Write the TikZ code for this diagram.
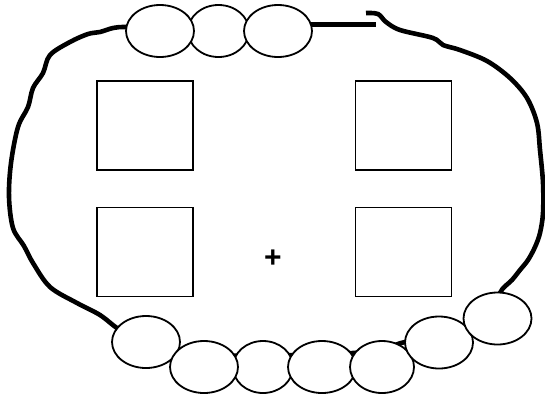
\documentclass[tikz,border=0pt]{standalone}
\usepackage{fontspec}
\setmainfont{Liberation Sans}
\usetikzlibrary{shapes.geometric}
\begin{document}
\begin{tikzpicture}[x=1pt,y=-1pt,
  bead/.style={ellipse,draw=black,fill=white,line width=1.8pt,inner sep=0pt,minimum width=#1,minimum height=52pt},
  bead/.default=68pt,
  box/.style={rectangle,draw=black,line width=1.4pt,inner sep=0pt,minimum width=96pt,minimum height=89pt},
  rope/.style={line width=4.6pt,line cap=butt,line join=round}]
\useasboundingbox (0,0) rectangle (545,397);
% rope
\draw[rope] plot[smooth,tension=0.55] coordinates{(160,28) (126,27) (113,28) (100,32) (88,34) (70,42) (50,55) (43,73) (33,88) (28,107) (18,127) (11,163) (9,197) (13,228) (24,246) (33,263) (50,287) (77,303) (100,315) (120,330) (146,342) (204,355) (263,355) (322,355) (382,350) (401,343) (439,335) (497,318)};
\draw[rope] (278,24.5) -- (376,24.5);
\draw[rope] plot[smooth,tension=0.55] coordinates{(366,13) (378,14) (386,22) (400,30) (433,38) (443,45) (460,50) (487,61) (510,78) (527,98) (537,123) (540,150) (543,183) (543,213) (540,233) (535,247) (528,260) (520,270) (512,280) (500,293) (497,318)};
% top beads
\node[bead=61pt] (t2) at (218.5,31) {};
\node[bead] (t1) at (160,31) {};
\node[bead] (t3) at (278,31) {};
% boxes
\node[box] (b1) at (145,125.5) {};
\node[box] (b2) at (403.5,125.5) {};
\node[box] (b3) at (145,252) {};
\node[box] (b4) at (403.5,252) {};
\node[font={\fontsize{30}{30}\selectfont\bfseries},inner sep=0pt] (plus) at (273,259) {+};
% bottom beads
\node[bead] (u1) at (146,342) {};
\node[bead=60pt] (u3) at (263,367) {};
\node[bead] (u2) at (204,367) {};
\node[bead] (u4) at (322,367) {};
\node[bead=64pt] (u5) at (382,367) {};
\node[bead] (u6) at (439,342.5) {};
\node[bead] (u7) at (497.5,318.5) {};
\end{tikzpicture}
\end{document}
